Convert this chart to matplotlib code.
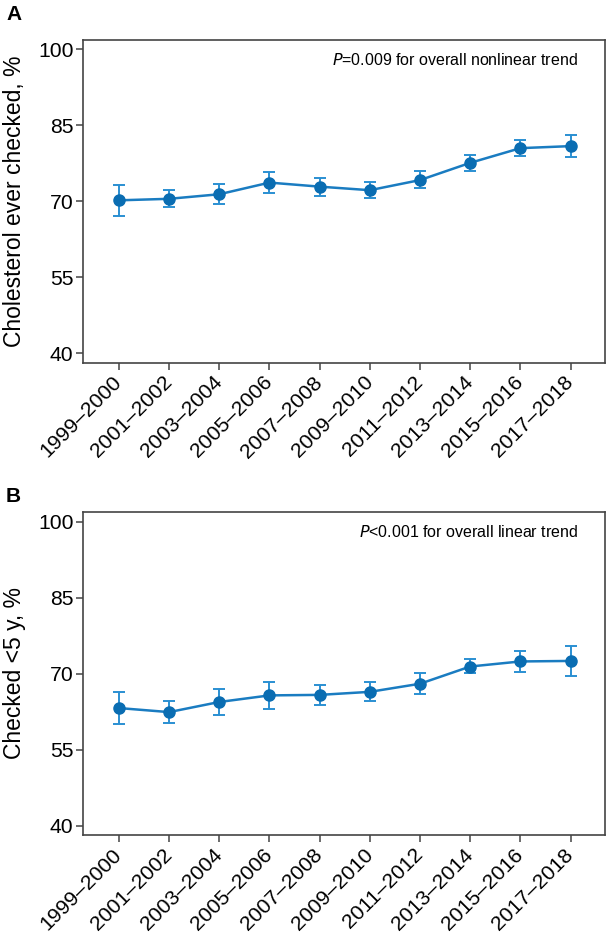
import matplotlib.pyplot as plt
import numpy as np

plt.rcParams['font.family'] = ['Liberation Sans', 'DejaVu Sans']

periods = ['1999–2000', '2001–2002', '2003–2004', '2005–2006', '2007–2008',
           '2009–2010', '2011–2012', '2013–2014', '2015–2016', '2017–2018']

# Panel A: cholesterol ever checked, %
ever_est = [70.2, 70.5, 71.4, 73.7, 72.9, 72.2, 74.2, 77.6, 80.5, 80.9]
ever_lo = [67.1, 68.9, 69.4, 71.6, 71.1, 70.6, 72.6, 76.0, 78.9, 78.7]
ever_hi = [73.3, 72.2, 73.5, 75.8, 74.7, 73.8, 75.9, 79.1, 82.2, 83.1]

# Panel B: checked within the past 5 years, %
recent_est = [63.2, 62.4, 64.4, 65.7, 65.8, 66.4, 68.0, 71.4, 72.4, 72.5]
recent_lo = [60.0, 60.2, 61.8, 63.1, 63.9, 64.5, 65.9, 70.1, 70.4, 69.5]
recent_hi = [66.4, 64.5, 67.0, 68.3, 67.7, 68.3, 70.1, 72.8, 74.5, 75.4]

yticks = [40, 55, 70, 85, 100]

line_col = '#1a7cc1'
mark_col = '#0a6db2'
err_col = '#2a8fd2'
spine_col = '#444444'

fig = plt.figure(figsize=(6.08, 9.35), dpi=100)
ax_a = fig.add_axes([0.137, 0.6121, 0.8576, 0.3454])
ax_b = fig.add_axes([0.137, 0.1070, 0.8576, 0.3454])


def draw_panel(ax, est, lo, hi, ylabel, note, letter, letter_y):
    x = np.arange(len(periods))
    est = np.array(est)
    yerr = [est - np.array(lo), np.array(hi) - est]
    ax.errorbar(x, est, yerr=yerr, fmt='none', ecolor=err_col, elinewidth=1.4,
                capsize=4, capthick=1.4, zorder=2)
    ax.plot(x, est, color=line_col, linewidth=1.8, zorder=3)
    ax.plot(x, est, 'o', color=mark_col, markersize=8, zorder=4)

    ax.set_xlim(-0.71, 9.68)
    ax.set_ylim(38.15, 101.9)
    ax.set_yticks(yticks)
    ax.set_xticks(x)
    ax.set_xticklabels(periods, rotation=45, ha='right', va='center',
                       rotation_mode='anchor')
    ax.tick_params(axis='both', labelsize=15.2, length=5, width=1.1,
                   color=spine_col, pad=2)
    ax.tick_params(axis='x', pad=7)
    for s in ax.spines.values():
        s.set_color(spine_col)
        s.set_linewidth(1.2)
    ax.set_ylabel(ylabel, fontsize=16.5, labelpad=9)

    ax.text(0.949, 0.937, note, transform=ax.transAxes, ha='right',
            va='center', fontsize=11.5)
    fig.text(0.010, letter_y, letter, fontsize=15, fontweight='bold',
             ha='left', va='center')


draw_panel(ax_a, ever_est, ever_lo, ever_hi, 'Cholesterol ever checked, %',
           '$\\it{P}$=0.009 for overall nonlinear trend', 'A', 1 - 15 / 935)
draw_panel(ax_b, recent_est, recent_lo, recent_hi, 'Checked <5 y, %',
           '$\\it{P}$<0.001 for overall linear trend', 'B', 1 - 496 / 935)

fig.savefig('out.png', dpi=100)
